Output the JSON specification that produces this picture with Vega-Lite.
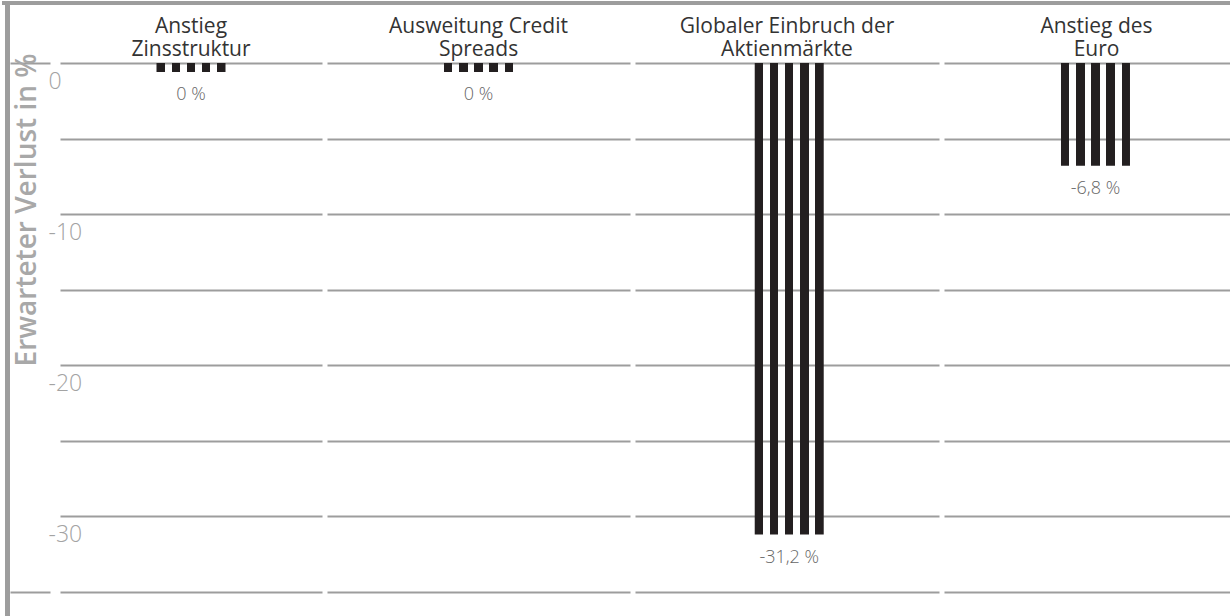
{
  "$schema": "https://vega.github.io/schema/vega-lite/v6.json",
  "padding": 0,
  "background": "white",
  "config": {"view": {"stroke": null}, "font": "Open Sans"},
  "data": {"values": [
    {"cat": "Anstieg Zinsstruktur", "value": -0.6, "label": "0 %"},
    {"cat": "Ausweitung Credit Spreads", "value": -0.6, "label": "0 %"},
    {"cat": "Globaler Einbruch der Aktienmärkte", "value": -31.2, "label": "-31,2 %"},
    {"cat": "Anstieg des Euro", "value": -6.8, "label": "-6,8 %"}
  ]},
  "bounds": "flush",
  "spacing": 0,
  "resolve": {"scale": {"x": "independent", "y": "independent"}},
  "vconcat": [
    {"width": 1230, "height": 4, "view": {"fill": "#9d9d9d", "stroke": null}, "mark": {"type": "point", "opacity": 0}, "encoding": {}},
    {
      "bounds": "flush",
      "spacing": 0,
      "resolve": {"scale": {"x": "independent", "y": "independent"}},
      "hconcat": [
        {"width": 3, "height": 612, "mark": {"type": "point", "opacity": 0}, "encoding": {}},
        {"width": 5, "height": 612, "view": {"fill": "#9d9d9d", "stroke": null}, "mark": {"type": "point", "opacity": 0}, "encoding": {}},
        {"width": 40, "height": 612, "mark": {"type": "point", "opacity": 0},
         "encoding": {"y": {"field": "value", "type": "quantitative",
           "scale": {"domain": [-36.65, 3.84], "nice": false, "zero": false},
           "axis": {"values": [0, -35], "grid": true, "gridColor": "#9d9d9d", "gridWidth": 2, "labels": false, "ticks": false, "domain": false, "title": null}}}},
        {"width": 10, "height": 612, "mark": {"type": "point", "opacity": 0}, "encoding": {}},
        {
          "width": 262, "height": 612,
          "transform": [{"filter": "datum.cat === 'Anstieg Zinsstruktur'"}],
          "title": {"text": ["Anstieg", "Zinsstruktur"], "offset": -72, "baseline": "alphabetic", "fontSize": 21, "lineHeight": 23, "font": "Open Sans", "fontWeight": "normal", "color": "#333333"},
          "encoding": {
            "x": {"field": "cat", "type": "nominal", "scale": {"paddingInner": 0, "paddingOuter": 1.5, "align": 0.5}, "axis": null},
            "y": {"field": "value", "type": "quantitative", "scale": {"domain": [-36.65, 3.84], "nice": false, "zero": false},
              "axis": {"values": [0, -5, -10, -15, -20, -25, -30, -35], "grid": true, "gridColor": "#9d9d9d", "gridWidth": 2, "domain": false, "ticks": false,
                "labelExpr": "datum.value % 10 === 0 ? '' + datum.value : ''", "labelAlign": "left", "labelPadding": 12, "labelBaseline": "alphabetic", "labelOffset": 25,
                "labelOverlap": false, "labelFlush": false, "labelFont": "Open Sans", "labelFontSize": 23, "labelFontWeight": 300, "labelColor": "#a3a3a3",
                "title": "Erwarteter Verlust in %", "titleX": -25, "titleY": 204.5, "titleAngle": 270, "titleAlign": "center", "titleBaseline": "alphabetic",
                "titleFont": "Open Sans", "titleFontSize": 28, "titleFontWeight": 600, "titleColor": "#a8a8a8"}}
          },
          "layer": [
            {"mark": {"type": "bar", "width": 69, "fill": {"gradient": "linear", "x1": 0, "x2": 1, "y1": 0, "y2": 0, "stops": [
              {"offset": 0, "color": "#231f20"}, {"offset": 0.121, "color": "#231f20"}, {"offset": 0.121, "color": "rgba(35,31,32,0)"}, {"offset": 0.22, "color": "rgba(35,31,32,0)"},
              {"offset": 0.22, "color": "#231f20"}, {"offset": 0.341, "color": "#231f20"}, {"offset": 0.341, "color": "rgba(35,31,32,0)"}, {"offset": 0.44, "color": "rgba(35,31,32,0)"},
              {"offset": 0.44, "color": "#231f20"}, {"offset": 0.56, "color": "#231f20"}, {"offset": 0.56, "color": "rgba(35,31,32,0)"}, {"offset": 0.659, "color": "rgba(35,31,32,0)"},
              {"offset": 0.659, "color": "#231f20"}, {"offset": 0.78, "color": "#231f20"}, {"offset": 0.78, "color": "rgba(35,31,32,0)"}, {"offset": 0.879, "color": "rgba(35,31,32,0)"},
              {"offset": 0.879, "color": "#231f20"}, {"offset": 1, "color": "#231f20"}]}}},
            {"mark": {"type": "text", "baseline": "alphabetic", "dy": 28, "font": "Open Sans", "fontSize": 18, "fontWeight": 300, "color": "#666666"}, "encoding": {"text": {"field": "label"}}}
          ]
        },
        {"width": 5, "height": 612, "mark": {"type": "point", "opacity": 0}, "encoding": {}},
        {
          "width": 303, "height": 612,
          "transform": [{"filter": "datum.cat === 'Ausweitung Credit Spreads'"}],
          "title": {"text": ["Ausweitung Credit", "Spreads"], "offset": -72, "baseline": "alphabetic", "fontSize": 21, "lineHeight": 23, "font": "Open Sans", "fontWeight": "normal", "color": "#333333"},
          "encoding": {
            "x": {"field": "cat", "type": "nominal", "scale": {"paddingInner": 0, "paddingOuter": 1.5, "align": 0.5}, "axis": null},
            "y": {"field": "value", "type": "quantitative", "scale": {"domain": [-36.65, 3.84], "nice": false, "zero": false},
              "axis": {"values": [0, -5, -10, -15, -20, -25, -30, -35], "grid": true, "gridColor": "#9d9d9d", "gridWidth": 2, "domain": false, "ticks": false, "labels": false, "title": null}}
          },
          "layer": [
            {"mark": {"type": "bar", "width": 69, "fill": {"gradient": "linear", "x1": 0, "x2": 1, "y1": 0, "y2": 0, "stops": [
              {"offset": 0, "color": "#231f20"}, {"offset": 0.121, "color": "#231f20"}, {"offset": 0.121, "color": "rgba(35,31,32,0)"}, {"offset": 0.22, "color": "rgba(35,31,32,0)"},
              {"offset": 0.22, "color": "#231f20"}, {"offset": 0.341, "color": "#231f20"}, {"offset": 0.341, "color": "rgba(35,31,32,0)"}, {"offset": 0.44, "color": "rgba(35,31,32,0)"},
              {"offset": 0.44, "color": "#231f20"}, {"offset": 0.56, "color": "#231f20"}, {"offset": 0.56, "color": "rgba(35,31,32,0)"}, {"offset": 0.659, "color": "rgba(35,31,32,0)"},
              {"offset": 0.659, "color": "#231f20"}, {"offset": 0.78, "color": "#231f20"}, {"offset": 0.78, "color": "rgba(35,31,32,0)"}, {"offset": 0.879, "color": "rgba(35,31,32,0)"},
              {"offset": 0.879, "color": "#231f20"}, {"offset": 1, "color": "#231f20"}]}}},
            {"mark": {"type": "text", "baseline": "alphabetic", "dy": 28, "font": "Open Sans", "fontSize": 18, "fontWeight": 300, "color": "#666666"}, "encoding": {"text": {"field": "label"}}}
          ]
        },
        {"width": 5, "height": 612, "mark": {"type": "point", "opacity": 0}, "encoding": {}},
        {
          "width": 304, "height": 612,
          "transform": [{"filter": "datum.cat === 'Globaler Einbruch der Aktienmärkte'"}],
          "title": {"text": ["Globaler Einbruch der", "Aktienmärkte"], "offset": -72, "baseline": "alphabetic", "fontSize": 21, "lineHeight": 23, "font": "Open Sans", "fontWeight": "normal", "color": "#333333"},
          "encoding": {
            "x": {"field": "cat", "type": "nominal", "scale": {"paddingInner": 0, "paddingOuter": 1.5, "align": 0.511}, "axis": null},
            "y": {"field": "value", "type": "quantitative", "scale": {"domain": [-36.65, 3.84], "nice": false, "zero": false},
              "axis": {"values": [0, -5, -10, -15, -20, -25, -30, -35], "grid": true, "gridColor": "#9d9d9d", "gridWidth": 2, "domain": false, "ticks": false, "labels": false, "title": null}}
          },
          "layer": [
            {"mark": {"type": "bar", "width": 69, "fill": {"gradient": "linear", "x1": 0, "x2": 1, "y1": 0, "y2": 0, "stops": [
              {"offset": 0, "color": "#231f20"}, {"offset": 0.121, "color": "#231f20"}, {"offset": 0.121, "color": "rgba(35,31,32,0)"}, {"offset": 0.22, "color": "rgba(35,31,32,0)"},
              {"offset": 0.22, "color": "#231f20"}, {"offset": 0.341, "color": "#231f20"}, {"offset": 0.341, "color": "rgba(35,31,32,0)"}, {"offset": 0.44, "color": "rgba(35,31,32,0)"},
              {"offset": 0.44, "color": "#231f20"}, {"offset": 0.56, "color": "#231f20"}, {"offset": 0.56, "color": "rgba(35,31,32,0)"}, {"offset": 0.659, "color": "rgba(35,31,32,0)"},
              {"offset": 0.659, "color": "#231f20"}, {"offset": 0.78, "color": "#231f20"}, {"offset": 0.78, "color": "rgba(35,31,32,0)"}, {"offset": 0.879, "color": "rgba(35,31,32,0)"},
              {"offset": 0.879, "color": "#231f20"}, {"offset": 1, "color": "#231f20"}]}}},
            {"mark": {"type": "text", "baseline": "alphabetic", "dy": 28, "font": "Open Sans", "fontSize": 18, "fontWeight": 300, "color": "#666666"}, "encoding": {"text": {"field": "label"}}}
          ]
        },
        {"width": 5, "height": 612, "mark": {"type": "point", "opacity": 0}, "encoding": {}},
        {
          "width": 288, "height": 612,
          "transform": [{"filter": "datum.cat === 'Anstieg des Euro'"}],
          "title": {"text": ["Anstieg des", "Euro"], "offset": -72, "dx": 8.5, "baseline": "alphabetic", "fontSize": 21, "lineHeight": 23, "font": "Open Sans", "fontWeight": "normal", "color": "#333333"},
          "encoding": {
            "x": {"field": "cat", "type": "nominal", "scale": {"paddingInner": 0, "paddingOuter": 1.5, "align": 0.539}, "axis": null},
            "y": {"field": "value", "type": "quantitative", "scale": {"domain": [-36.65, 3.84], "nice": false, "zero": false},
              "axis": {"values": [0, -5, -10, -15, -20, -25, -30, -35], "grid": true, "gridColor": "#9d9d9d", "gridWidth": 2, "domain": false, "ticks": false, "labels": false, "title": null}}
          },
          "layer": [
            {"mark": {"type": "bar", "width": 69, "fill": {"gradient": "linear", "x1": 0, "x2": 1, "y1": 0, "y2": 0, "stops": [
              {"offset": 0, "color": "#231f20"}, {"offset": 0.121, "color": "#231f20"}, {"offset": 0.121, "color": "rgba(35,31,32,0)"}, {"offset": 0.22, "color": "rgba(35,31,32,0)"},
              {"offset": 0.22, "color": "#231f20"}, {"offset": 0.341, "color": "#231f20"}, {"offset": 0.341, "color": "rgba(35,31,32,0)"}, {"offset": 0.44, "color": "rgba(35,31,32,0)"},
              {"offset": 0.44, "color": "#231f20"}, {"offset": 0.56, "color": "#231f20"}, {"offset": 0.56, "color": "rgba(35,31,32,0)"}, {"offset": 0.659, "color": "rgba(35,31,32,0)"},
              {"offset": 0.659, "color": "#231f20"}, {"offset": 0.78, "color": "#231f20"}, {"offset": 0.78, "color": "rgba(35,31,32,0)"}, {"offset": 0.879, "color": "rgba(35,31,32,0)"},
              {"offset": 0.879, "color": "#231f20"}, {"offset": 1, "color": "#231f20"}]}}},
            {"mark": {"type": "text", "baseline": "alphabetic", "dy": 28, "font": "Open Sans", "fontSize": 18, "fontWeight": 300, "color": "#666666"}, "encoding": {"text": {"field": "label"}}}
          ]
        }
      ]
    }
  ]
}
